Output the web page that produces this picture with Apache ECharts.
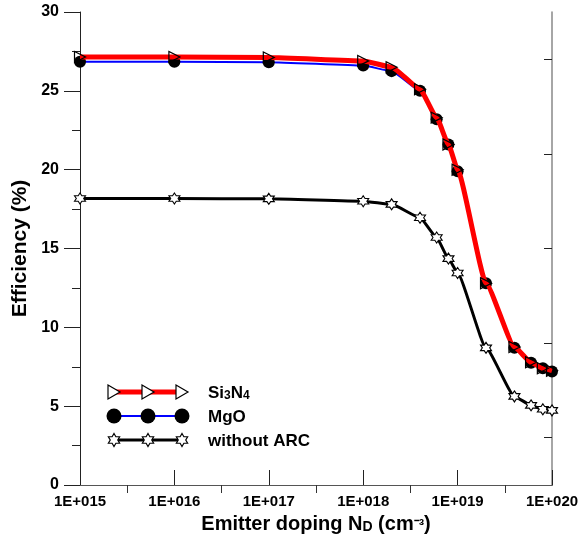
<!DOCTYPE html>
<html><head><meta charset="utf-8">
<script src="https://cdn.jsdelivr.net/npm/echarts@6/dist/echarts.min.js"></script>
<style>html,body{margin:0;padding:0;background:#fff}#c{width:586px;height:537px}</style>
</head><body><div id="c"></div>
<script>
var doping = [1e15, 1e16, 1e17, 1e18, 2e18, 4e18, 6e18, 8e18, 1e19, 2e19, 4e19, 6e19, 8e19, 1e20];
var si3n4 = [27.15, 27.15, 27.12, 26.9, 26.5, 25.1, 23.3, 21.6, 20.0, 12.8, 8.75, 7.78, 7.4, 7.25];
var mgo = [26.85, 26.85, 26.82, 26.6, 26.25, 25.0, 23.2, 21.6, 19.9, 12.8, 8.7, 7.75, 7.4, 7.2];
var noArc = [18.17, 18.17, 18.15, 18.0, 17.8, 16.95, 15.7, 14.36, 13.45, 8.7, 5.62, 5.05, 4.8, 4.73];
var xTickLabels = ['1E+015', '1E+016', '1E+017', '1E+018', '1E+019', '1E+020'];
var yTicks = [0, 5, 10, 15, 20, 25, 30];

var starPath = 'path://M100,0 L128.9,50 L186.6,50 L157.7,100 L186.6,150 L128.9,150 L100,200 L71.1,150 L13.4,150 L42.3,100 L13.4,50 L71.1,50 Z';

function pts(ys){ return doping.map(function(x,i){ return [x, ys[i]]; }); }
function starPoints(cx, cy, R){
  var out = [];
  for (var k = 0; k < 12; k++) {
    var ang = (-90 + 30 * k) * Math.PI / 180;
    var rr = (k % 2 === 0) ? R : R / Math.sqrt(3);
    out.push([cx + rr * Math.cos(ang), cy + rr * Math.sin(ang)]);
  }
  return out;
}

var chart = echarts.init(document.getElementById('c'));
var font = 'Liberation Sans, Arial, sans-serif';

var legendRows = [
  {y: 392, color: '#ff0000', width: 5, kind: 'tri', label: '{a|Si}{s|3}{a|N}{s|4}'},
  {y: 416, color: '#0000ff', width: 2, kind: 'circle', label: '{a|MgO}'},
  {y: 440, color: '#000000', width: 3, kind: 'star', label: '{a|without ARC}'}
];
var markerXs = [114, 148, 182];
var graphics = [];
legendRows.forEach(function(r){
  graphics.push({type:'line', shape:{x1:112, y1:r.y, x2:182, y2:r.y}, style:{stroke:r.color, lineWidth:r.width}, z:100});
  markerXs.forEach(function(mx){
    if (r.kind === 'tri') {
      graphics.push({type:'polygon', shape:{points:[[mx-6,r.y-7],[mx+6,r.y],[mx-6,r.y+7]]}, style:{fill:'#fff', stroke:'#000', lineWidth:1.2}, z:101});
    } else if (r.kind === 'circle') {
      graphics.push({type:'circle', shape:{cx:mx, cy:r.y, r:7.5}, style:{fill:'#000'}, z:101});
    } else {
      graphics.push({type:'polygon', shape:{points:starPoints(mx, r.y, 6.5)}, style:{fill:'#fff', stroke:'#000', lineWidth:1.2}, z:101});
    }
  });
  graphics.push({type:'text', x:208, y:r.y, style:{text:r.label, verticalAlign:'middle', rich:{
    a:{fontFamily:font, fontWeight:'bold', fontSize:17, fill:'#000', verticalAlign:'bottom', lineHeight:20},
    s:{fontFamily:font, fontWeight:'bold', fontSize:12, fill:'#000', verticalAlign:'bottom', lineHeight:20}
  }}, z:101});
});

var option = {
  animation: false,
  grid: {left: 80, right: 34, top: 12, bottom: 52, containLabel: false, outerBoundsMode: 'none'},
  xAxis: [{
    type: 'log', logBase: 10, min: 1e15, max: 1e20,
    axisLine: {show: true, lineStyle: {color: '#222', width: 1}},
    axisTick: {show: true, inside: true, length: 15, lineStyle: {color: '#222'}},
    minorTick: {show: false},
    splitLine: {show: false},
    axisLabel: {color: '#000', fontFamily: font, fontWeight: 'bold', fontSize: 15, margin: 9,
      formatter: function(v){ var e = Math.round(Math.log10(v)); return xTickLabels[e - 15]; }},
    name: '{a|Emitter doping N}{s|D}{a| (cm}{p|⁻³}{a|)}',
    nameLocation: 'middle', nameGap: 25,
    nameTextStyle: {rich: {
      a: {fontFamily: font, fontWeight: 'bold', fontSize: 20, color: '#000', verticalAlign: 'bottom', lineHeight: 24},
      s: {fontFamily: font, fontWeight: 'bold', fontSize: 14, color: '#000', verticalAlign: 'bottom', lineHeight: 22},
      p: {fontFamily: font, fontWeight: 'bold', fontSize: 16, color: '#000', verticalAlign: 'bottom', lineHeight: 24}
    }}
  }, {
    type: 'value', position: 'top', min: 0, max: 5, interval: 1,
    axisLine: {show: true, lineStyle: {color: '#555'}},
    axisTick: {show: false, inside: true},
    minorTick: {show: true, splitNumber: 2, length: 8, lineStyle: {color: '#333', width: 1}},
    axisLabel: {show: false}, splitLine: {show: false}
  }],
  yAxis: [{
    type: 'value', min: 0, max: 30, interval: 5,
    axisLine: {show: true, lineStyle: {color: '#222'}},
    axisTick: {show: true, inside: false, length: 16, lineStyle: {color: '#222'}},
    minorTick: {show: true, splitNumber: 2, length: 8, lineStyle: {color: '#222'}},
    splitLine: {show: false},
    axisLabel: {color: '#000', fontFamily: font, fontWeight: 'bold', fontSize: 16, margin: 21,
      formatter: function(v){ return yTicks.indexOf(v) >= 0 ? String(v) : ''; }},
    name: 'Efficiency (%)', nameLocation: 'middle', nameGap: 33,
    nameTextStyle: {fontFamily: font, fontWeight: 'bold', fontSize: 21, color: '#000'}
  }, {
    type: 'value', position: 'right', min: 0, max: 10, interval: 2,
    axisLine: {show: true, lineStyle: {color: '#888', width: 1.5}},
    axisTick: {show: false, inside: true},
    minorTick: {show: true, splitNumber: 2, length: 8, lineStyle: {color: '#222'}},
    axisLabel: {show: false}, splitLine: {show: false}
  }],
  series: [{
    name: 'without ARC', type: 'line', data: pts(noArc), xAxisIndex: 0, yAxisIndex: 0,
    smooth: 0.15, smoothMonotone: 'x',
    lineStyle: {color: '#000', width: 3},
    symbol: starPath, symbolSize: 11, showAllSymbol: true,
    itemStyle: {color: '#fff', borderColor: '#000', borderWidth: 1.1}, z: 2
  }, {
    name: 'MgO', type: 'line', data: pts(mgo), xAxisIndex: 0, yAxisIndex: 0,
    smooth: 0.15, smoothMonotone: 'x',
    lineStyle: {color: '#0000ff', width: 2},
    symbol: 'circle', symbolSize: 12, showAllSymbol: true,
    itemStyle: {color: '#000', borderColor: '#000', borderWidth: 0}, z: 3
  }, {
    name: 'Si3N4', type: 'line', data: pts(si3n4), xAxisIndex: 0, yAxisIndex: 0,
    smooth: 0.15, smoothMonotone: 'x',
    lineStyle: {color: '#ff0000', width: 5},
    symbol: 'triangle', symbolRotate: -90, symbolSize: 11, showAllSymbol: true,
    itemStyle: {color: 'rgba(0,0,0,0)', borderColor: '#000', borderWidth: 1.2}, z: 4
  }],
  graphic: graphics
};
chart.setOption(option);
</script>
</body></html>
